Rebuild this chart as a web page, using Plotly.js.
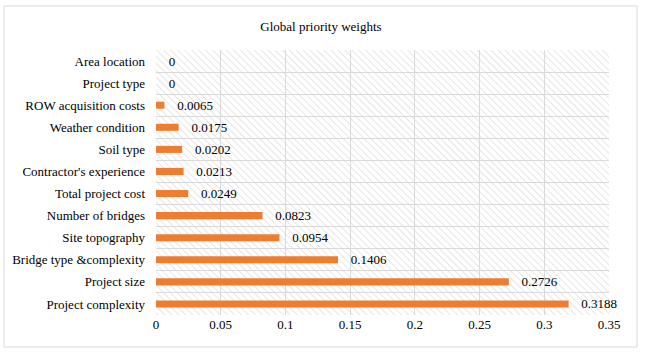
<!DOCTYPE html>
<html>
<head>
<meta charset="utf-8">
<script src="https://cdn.plot.ly/plotly-3.0.1.min.js"></script>
<style>html,body{margin:0;padding:0;background:#fff;}#chart{width:650px;height:355px;}</style>
</head>
<body>
<div id="chart"></div>
<script>
// Categories listed top to bottom as in the reference
const categories = [
  "Area location",
  "Project type",
  "ROW acquisition costs",
  "Weather condition",
  "Soil type",
  "Contractor's experience",
  "Total project cost",
  "Number of bridges",
  "Site topography",
  "Bridge type &complexity",
  "Project size",
  "Project complexity"
];
const weights = [0, 0, 0.0065, 0.0175, 0.0202, 0.0213, 0.0249, 0.0823, 0.0954, 0.1406, 0.2726, 0.3188];
const xTicks = [0, 0.05, 0.1, 0.15, 0.2, 0.25, 0.3, 0.35];
const xTickLabels = ["0", "0.05", "0.1", "0.15", "0.2", "0.25", "0.3", "0.35"];
const chartTitle = "Global priority weights";

const FONT = "Liberation Serif, Times New Roman, serif";

const hatchSvg = '<svg xmlns="http://www.w3.org/2000/svg" width="460" height="270">' +
  '<defs><pattern id="h" width="5" height="5" patternUnits="userSpaceOnUse" patternTransform="rotate(-45)">' +
  '<line x1="0" y1="0" x2="0" y2="5" stroke="#d4d4d4" stroke-width="1.2"/></pattern></defs>' +
  '<rect width="100%" height="100%" fill="url(#h)"/></svg>';
const hatchUri = 'data:image/svg+xml;base64,' + btoa(hatchSvg);

const trace = {
  type: 'bar',
  orientation: 'h',
  y: categories,
  x: weights,
  text: weights.map(v => '\u00a0\u00a0\u00a0' + String(v)),
  textposition: 'outside',
  constraintext: 'none',
  cliponaxis: false,
  textfont: {family: FONT, size: 13, color: '#000'},
  marker: {color: '#ED7D31'},
  width: 0.32,
  hoverinfo: 'x+y'
};

const L = 156, R = 609, T = 50, B = 315, W = 650, H = 355;
const pw = R - L, ph = B - T;

const layout = {
  width: W, height: H,
  margin: {l: L, r: W - R, t: T, b: H - B, pad: 0},
  paper_bgcolor: '#ffffff',
  plot_bgcolor: '#ffffff',
  font: {family: FONT, size: 13, color: '#000'},
  showlegend: false,
  title: {text: chartTitle, font: {family: FONT, size: 13, color: '#000'}, x: 321 / W, xanchor: 'center', y: 1 - 26 / H, yanchor: 'middle'},
  xaxis: {
    range: [0, 0.35],
    tickmode: 'array', tickvals: xTicks, ticktext: xTickLabels,
    showgrid: true, gridcolor: '#d9d9d9', gridwidth: 1,
    zeroline: false, showline: false,
    ticks: '', ticklen: 0,
    tickfont: {family: FONT, size: 13, color: '#000'},
    fixedrange: true
  },
  yaxis: {
    autorange: 'reversed',
    type: 'category',
    tickson: 'boundaries',
    showgrid: true, gridcolor: '#d9d9d9', gridwidth: 1,
    zeroline: false, showline: false,
    ticks: '', ticklen: 0, ticklabelstandoff: 10,
    tickfont: {family: FONT, size: 13, color: '#000'},
    fixedrange: true
  },
  images: [{
    source: hatchUri,
    xref: 'paper', yref: 'paper',
    x: 0, y: 1, sizex: 1, sizey: 1,
    xanchor: 'left', yanchor: 'top',
    sizing: 'stretch', layer: 'below'
  }],
  shapes: [{
    type: 'rect', xref: 'paper', yref: 'paper',
    x0: (4 - L) / pw, x1: (637 - L) / pw,
    y0: (B - 347) / ph, y1: (B - 6) / ph,
    line: {color: '#d9d9d9', width: 1}, fillcolor: 'rgba(0,0,0,0)',
    layer: 'below'
  }]
};

Plotly.newPlot('chart', [trace], layout, {displayModeBar: false, staticPlot: true});
</script>
</body>
</html>
